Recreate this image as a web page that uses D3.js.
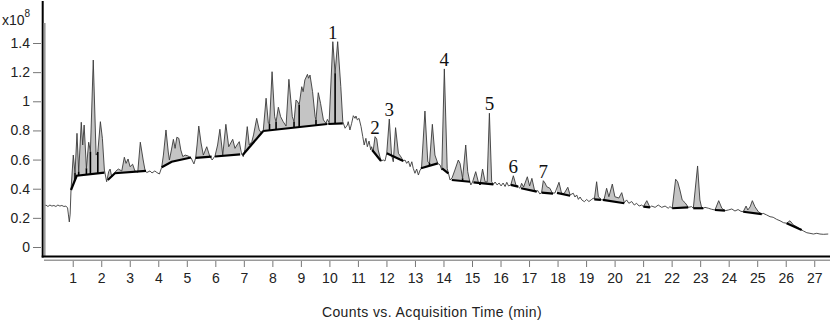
<!DOCTYPE html>
<html>
<head>
<meta charset="utf-8">
<script src="https://cdn.jsdelivr.net/npm/d3@7"></script>
<style>
  body { margin: 0; background: #fff; }
  svg { display: block; font-family: "Liberation Sans", Arial, sans-serif; }
</style>
</head>
<body>
<div id="chart"></div>
<script>
// Acquisition time (min)
const traceTime = [
  0.00,0.06,0.13,0.20,0.27,0.34,0.41,0.48,0.55,0.62,
  0.69,0.76,0.82,0.85,0.88,0.91,0.94,1.02,1.08,1.15,
  1.21,1.30,1.35,1.40,1.48,1.56,1.62,1.72,1.82,1.88,
  1.97,2.04,2.11,2.19,2.26,2.31,2.37,2.42,2.52,2.60,
  2.72,2.81,2.87,2.94,3.01,3.10,3.18,3.28,3.37,3.47,
  3.54,3.60,3.71,3.78,3.88,3.95,4.04,4.12,4.18,4.27,
  4.35,4.39,4.46,4.53,4.59,4.65,4.72,4.79,4.86,4.94,
  5.04,5.15,5.25,5.31,5.36,5.42,5.50,5.58,5.70,5.81,
  5.89,5.99,6.08,6.16,6.26,6.37,6.47,6.61,6.69,6.76,
  6.84,6.92,6.98,7.04,7.12,7.19,7.28,7.34,7.45,7.54,
  7.62,7.68,7.78,7.86,7.90,7.99,8.08,8.13,8.21,8.29,
  8.38,8.48,8.58,8.70,8.76,8.83,8.89,8.94,9.03,9.08,
  9.14,9.23,9.27,9.32,9.41,9.50,9.53,9.61,9.69,9.79,
  9.88,9.93,9.99,10.12,10.20,10.29,10.40,10.47,10.55,10.63,
  10.66,10.72,10.78,10.84,10.90,10.93,10.98,11.04,11.11,11.17,
  11.22,11.28,11.33,11.39,11.45,11.48,11.53,11.60,11.66,11.71,
  11.81,11.89,11.95,12.01,12.10,12.18,12.24,12.32,12.42,12.51,
  12.59,12.65,12.71,12.77,12.83,12.89,12.94,13.00,13.06,13.12,
  13.18,13.23,13.35,13.45,13.51,13.61,13.70,13.80,13.88,13.94,
  14.03,14.13,14.18,14.23,14.30,14.40,14.52,14.58,14.67,14.78,
  14.85,14.91,14.96,15.02,15.13,15.22,15.28,15.37,15.46,15.53,
  15.61,15.69,15.75,15.81,15.88,15.95,16.02,16.09,16.16,16.22,
  16.28,16.36,16.45,16.54,16.62,16.68,16.74,16.81,16.94,17.02,
  17.10,17.19,17.27,17.30,17.38,17.44,17.50,17.56,17.62,17.73,
  17.82,17.91,18.05,18.14,18.23,18.36,18.44,18.55,18.61,18.67,
  18.73,18.79,18.85,18.94,19.02,19.10,19.20,19.26,19.29,19.37,
  19.43,19.55,19.63,19.72,19.80,19.92,20.01,20.15,20.25,20.34,
  20.42,20.50,20.60,20.69,20.77,20.86,20.95,21.01,21.13,21.24,
  21.30,21.42,21.53,21.65,21.77,21.88,21.94,22.02,22.14,22.21,
  22.29,22.37,22.47,22.53,22.58,22.70,22.76,22.91,22.99,23.05,
  23.11,23.17,23.29,23.40,23.52,23.65,23.76,23.87,23.99,24.11,
  24.22,24.33,24.43,24.51,24.61,24.67,24.75,24.83,24.92,25.04,
  25.16,25.21,25.33,25.45,25.56,25.68,25.80,25.92,26.03,26.15,
  26.27,26.39,26.50,26.62,26.74,26.85,26.97,27.09,27.20,27.32,
  27.49
];

// Counts (x10^8)
const traceCount = [
  0.281,0.288,0.278,0.288,0.281,0.285,0.278,0.288,0.281,0.285,
  0.278,0.281,0.268,0.220,0.172,0.226,0.391,0.631,0.508,0.780,
  0.517,0.856,0.700,0.837,0.540,0.719,0.654,1.283,0.631,0.652,
  0.860,0.746,0.528,0.448,0.517,0.535,0.482,0.494,0.522,0.535,
  0.522,0.616,0.574,0.604,0.551,0.568,0.522,0.513,0.719,0.597,
  0.522,0.511,0.522,0.508,0.522,0.511,0.501,0.547,0.631,0.803,
  0.652,0.597,0.666,0.739,0.677,0.753,0.746,0.666,0.620,0.631,
  0.625,0.611,0.570,0.611,0.700,0.830,0.714,0.631,0.688,0.620,
  0.597,0.625,0.700,0.808,0.631,0.842,0.688,0.739,0.677,0.700,
  0.723,0.638,0.620,0.671,0.826,0.700,0.723,0.769,0.883,0.803,
  0.782,0.796,1.021,0.849,0.844,1.203,0.894,0.858,0.959,0.894,
  0.860,0.830,1.151,0.894,0.860,1.009,0.997,0.975,1.100,1.066,
  1.146,1.185,1.158,1.180,1.066,0.894,0.872,1.059,0.986,0.872,
  0.849,0.876,0.853,1.409,1.192,1.409,1.100,0.860,0.815,0.837,
  0.860,0.803,0.849,0.901,0.883,0.899,0.872,0.883,0.826,0.757,
  0.700,0.746,0.688,0.727,0.666,0.688,0.654,0.757,0.741,0.666,
  0.590,0.597,0.590,0.643,0.878,0.631,0.585,0.819,0.643,0.618,
  0.590,0.597,0.574,0.590,0.551,0.585,0.540,0.506,0.535,0.494,
  0.528,0.542,0.933,0.585,0.576,0.842,0.631,0.574,0.563,0.528,
  1.222,0.540,0.501,0.460,0.474,0.528,0.597,0.574,0.471,0.700,
  0.517,0.460,0.426,0.446,0.517,0.448,0.426,0.535,0.448,0.446,
  0.918,0.448,0.430,0.446,0.426,0.439,0.419,0.439,0.415,0.444,
  0.419,0.426,0.489,0.426,0.414,0.403,0.437,0.412,0.482,0.419,
  0.471,0.391,0.380,0.388,0.364,0.373,0.455,0.439,0.414,0.403,
  0.369,0.371,0.444,0.369,0.367,0.410,0.357,0.369,0.343,0.357,
  0.327,0.343,0.323,0.311,0.326,0.312,0.327,0.336,0.327,0.448,
  0.345,0.323,0.326,0.403,0.345,0.432,0.345,0.336,0.373,0.304,
  0.323,0.300,0.312,0.288,0.300,0.281,0.288,0.277,0.318,0.272,
  0.281,0.272,0.288,0.272,0.281,0.266,0.277,0.266,0.465,0.448,
  0.391,0.323,0.304,0.288,0.272,0.277,0.266,0.556,0.323,0.272,
  0.266,0.272,0.266,0.259,0.254,0.318,0.266,0.249,0.254,0.261,
  0.247,0.257,0.245,0.242,0.281,0.254,0.275,0.318,0.277,0.242,
  0.226,0.231,0.220,0.208,0.204,0.190,0.180,0.167,0.163,0.180,
  0.151,0.139,0.124,0.110,0.098,0.094,0.089,0.094,0.089,0.087,
  0.089
];

// integration baselines: [time, counts] points
const baselines = [
  [[0.94,0.391],[1.14,0.489],[2.11,0.510]],
  [[2.23,0.460],[2.48,0.506],[3.57,0.522]],
  [[4.12,0.547],[4.47,0.585],[5.15,0.614]],
  [[5.31,0.611],[5.87,0.620]],
  [[5.99,0.621],[6.87,0.636]],
  [[6.96,0.631],[7.68,0.796]],
  [[7.68,0.796],[9.93,0.844]],
  [[9.96,0.844],[10.47,0.849]],
  [[11.50,0.666],[11.81,0.590]],
  [[12.01,0.643],[12.59,0.590]],
  [[13.21,0.540],[13.80,0.574]],
  [[13.95,0.540],[14.17,0.506]],
  [[14.29,0.460],[14.93,0.448]],
  [[15.05,0.444],[15.75,0.430]],
  [[16.36,0.426],[16.62,0.414]],
  [[16.72,0.403],[17.27,0.380]],
  [[17.44,0.373],[17.84,0.366]],
  [[17.98,0.371],[18.44,0.352]],
  [[19.29,0.327],[19.52,0.323]],
  [[19.59,0.323],[20.34,0.300]],
  [[21.01,0.277],[21.24,0.272]],
  [[22.02,0.266],[22.58,0.272]],
  [[22.76,0.266],[23.11,0.266]],
  [[23.52,0.254],[23.87,0.249]],
  [[24.51,0.242],[25.16,0.226]],
  [[26.03,0.163],[26.56,0.117]]
];

// peak split lines (min)
const dropTimes = [1.08, 1.21, 1.48, 1.62, 1.88, 7.90, 8.13, 8.76, 8.94, 9.53, 10.20, 13.51, 14.67, 15.28];

const peakLabels = ["1", "2", "3", "4", "5", "6", "7"];
const peakTimes = [10.12, 11.60, 12.10, 14.03, 15.61, 16.45, 17.50];

const xTicks = d3.range(1, 28);
const yTicks = [0, 0.2, 0.4, 0.6, 0.8, 1, 1.2, 1.4];

const width = 830, height = 322;

const x = d3.scaleLinear().domain([0, 27.5]).range([44.2, 828.5]);
const y = d3.scaleLinear().domain([0, 1.4]).range([247, 43]);

const trace = traceTime.map((t, i) => [t, traceCount[i]]);
const bisect = d3.bisector(d => d[0]).left;

function interp(pts, t) {
  let i = bisect(pts, t);
  if (i <= 0) return pts[0][1];
  if (i >= pts.length) return pts[pts.length - 1][1];
  const a = pts[i - 1], b = pts[i];
  return a[1] + (b[1] - a[1]) * (t - a[0]) / (b[0] - a[0]);
}

const svg = d3.select("#chart").append("svg")
  .attr("width", width)
  .attr("height", height);

const line = d3.line().x(d => x(d[0])).y(d => y(d[1]));

// shaded peak areas
baselines.forEach(b => {
  const t0 = b[0][0], t1 = b[b.length - 1][0];
  const pts = [[t0, interp(trace, t0)]]
    .concat(trace.filter(p => p[0] > t0 && p[0] < t1))
    .concat([[t1, interp(trace, t1)]])
    .concat(b.slice().reverse());
  svg.append("path")
    .attr("d", line(pts) + "Z")
    .attr("fill", "#c4c4c4")
    .attr("stroke", "none");
});

// chromatogram trace
svg.append("path")
  .datum(trace)
  .attr("d", line)
  .attr("fill", "none")
  .attr("stroke", "#3a3a3a")
  .attr("stroke-width", 0.9)
  .attr("stroke-linejoin", "round");

// split lines
dropTimes.forEach(t => {
  const b = baselines.find(s => t >= s[0][0] && t <= s[s.length - 1][0]);
  svg.append("line")
    .attr("x1", x(t)).attr("x2", x(t))
    .attr("y1", y(interp(trace, t)))
    .attr("y2", y(interp(b, t)))
    .attr("stroke", "#000")
    .attr("stroke-width", 1.6);
});

// baselines
baselines.forEach(b => {
  svg.append("path")
    .attr("d", line(b))
    .attr("fill", "none")
    .attr("stroke", "#000")
    .attr("stroke-width", 2.2);
});

// peak numbers
peakLabels.forEach((lab, i) => {
  const t = peakTimes[i];
  svg.append("text")
    .attr("x", x(t))
    .attr("y", y(interp(trace, t)) - 3)
    .attr("text-anchor", "middle")
    .style("font-family", "'Liberation Serif', 'Times New Roman', serif")
    .style("font-size", "19px")
    .attr("fill", "#111")
    .text(lab);
});

// frame
svg.append("line").attr("x1", 42.7).attr("x2", 42.7).attr("y1", 1).attr("y2", 257.5)
  .attr("stroke", "#000").attr("stroke-width", 2);
svg.append("line").attr("x1", 44.6).attr("x2", 44.6).attr("y1", 23).attr("y2", 256)
  .attr("stroke", "#9a9a9a").attr("stroke-width", 2);
svg.append("line").attr("x1", 41.7).attr("x2", width).attr("y1", 256.5).attr("y2", 256.5)
  .attr("stroke", "#000").attr("stroke-width", 2);
svg.append("line").attr("x1", 44).attr("x2", width).attr("y1", 260.2).attr("y2", 260.2)
  .attr("stroke", "#9a9a9a").attr("stroke-width", 1.5);

// x axis
const xAxis = svg.append("g")
  .attr("transform", "translate(0,261)")
  .call(d3.axisBottom(x).tickValues(xTicks).tickSize(6).tickPadding(6).tickFormat(d3.format("d")));
xAxis.select(".domain").remove();
xAxis.selectAll(".tick line").attr("stroke", "#777");
xAxis.selectAll("text").style("font-size", "14px").attr("fill", "#222")
  .style("font-family", "'Liberation Sans', Arial, sans-serif");

// y axis
const yAxis = svg.append("g")
  .attr("transform", "translate(41,0)")
  .call(d3.axisLeft(y).tickValues(yTicks).tickSize(8).tickPadding(3).tickFormat(d => +d.toFixed(1)));
yAxis.select(".domain").remove();
yAxis.selectAll(".tick line").attr("stroke", "#777");
yAxis.selectAll("text").style("font-size", "14px").attr("fill", "#222")
  .style("font-family", "'Liberation Sans', Arial, sans-serif");

// scale factor
const sf = svg.append("text").attr("x", 2).attr("y", 25)
  .style("font-size", "14px").attr("fill", "#222");
sf.append("tspan").text("x10");
sf.append("tspan").attr("dy", -8).style("font-size", "10px").text("8");

// axis title
svg.append("text")
  .attr("x", 432)
  .attr("y", 317)
  .attr("text-anchor", "middle")
  .style("font-size", "14px")
  .style("letter-spacing", "0.4px")
  .attr("fill", "#222")
  .text("Counts vs. Acquisition Time (min)");
</script>
</body>
</html>
